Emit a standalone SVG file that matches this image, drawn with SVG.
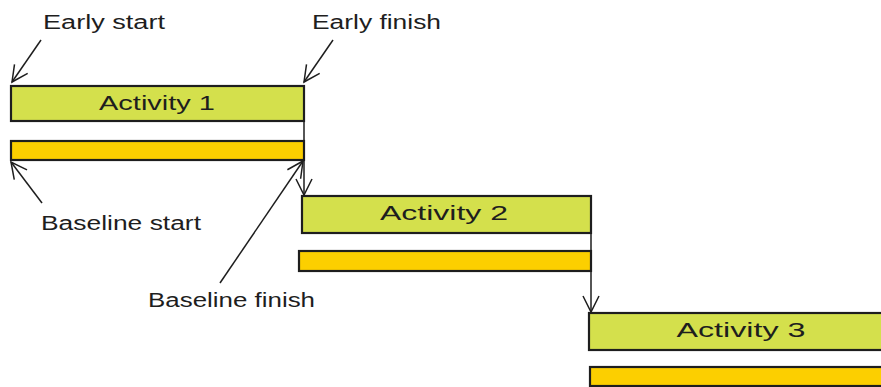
<svg xmlns="http://www.w3.org/2000/svg" width="881" height="387" viewBox="0 0 881 387">
<style>
.act{fill:#d4e04c;stroke:#1e1e1e;stroke-width:2.2}
.base{fill:#fccf00;stroke:#1e1e1e;stroke-width:2.2}
.t{font-family:"Liberation Sans",Arial,sans-serif;font-size:20px;fill:#1e1e1e}
.c{stroke:#1e1e1e;stroke-width:1.5;fill:none}
</style>
<defs>
<marker id="ah" viewBox="0 0 20 20" refX="18" refY="10" markerWidth="20" markerHeight="20" markerUnits="userSpaceOnUse" orient="auto">
<path d="M2,2 L18,10 L2,18" fill="none" stroke="#1e1e1e" stroke-width="1.5"/>
</marker>
</defs>
<rect width="881" height="387" fill="#ffffff"/>
<g id="activity1">
<rect class="act" x="11" y="86" width="293" height="35"/>
<text class="t" x="157" y="110" text-anchor="middle" textLength="116" lengthAdjust="spacingAndGlyphs">Activity 1</text>
</g>
<g id="baseline1">
<rect class="base" x="11" y="141" width="293" height="19"/>
</g>
<g id="activity2">
<rect class="act" x="302" y="196" width="289" height="37"/>
<text class="t" x="444" y="220" text-anchor="middle" textLength="128" lengthAdjust="spacingAndGlyphs">Activity 2</text>
</g>
<g id="baseline2">
<rect class="base" x="299" y="251" width="292" height="20"/>
</g>
<g id="activity3">
<rect class="act" x="589" y="313" width="300" height="37"/>
<text class="t" x="741" y="337" text-anchor="middle" textLength="129" lengthAdjust="spacingAndGlyphs">Activity 3</text>
</g>
<g id="baseline3">
<rect class="base" x="590" y="367" width="300" height="19"/>
</g>
<g id="labels">
<text class="t" x="43" y="29" textLength="122" lengthAdjust="spacingAndGlyphs">Early start</text>
<text class="t" x="312" y="29" textLength="129" lengthAdjust="spacingAndGlyphs">Early finish</text>
<text class="t" x="41" y="230" textLength="160" lengthAdjust="spacingAndGlyphs">Baseline start</text>
<text class="t" x="148" y="307" textLength="167" lengthAdjust="spacingAndGlyphs">Baseline finish</text>
</g>
<g id="connectors">
<line class="c" x1="41" y1="40" x2="12" y2="82" marker-end="url(#ah)"/>
<line class="c" x1="333" y1="40" x2="304" y2="82" marker-end="url(#ah)"/>
<line class="c" x1="42" y1="203" x2="11" y2="162" marker-end="url(#ah)"/>
<line class="c" x1="220" y1="283" x2="303" y2="161" marker-end="url(#ah)"/>
<line class="c" x1="304" y1="121" x2="304" y2="195" marker-end="url(#ah)"/>
<line class="c" x1="591" y1="233" x2="591" y2="312" marker-end="url(#ah)"/>
</g>
</svg>
